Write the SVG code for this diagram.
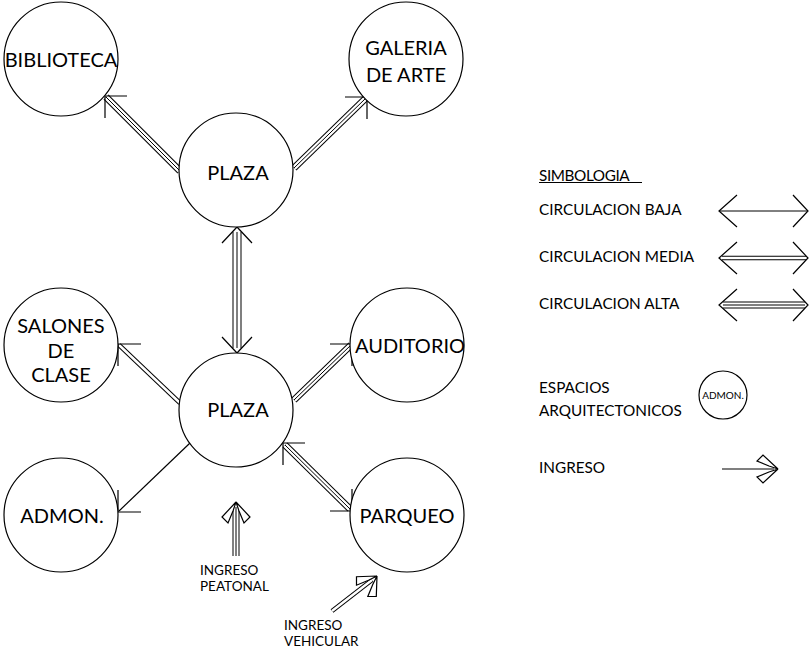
<svg xmlns="http://www.w3.org/2000/svg" width="809" height="652" viewBox="0 0 809 652">
<style>
.n{fill:#fff;stroke:#000;stroke-width:1.2}
.t{font-family:Lato,"Open Sans",sans-serif;fill:#000;text-anchor:middle}
.big{font-size:20px}
.lg{font-family:Lato,"Open Sans",sans-serif;font-size:15.3px;fill:#000}
.sm{font-family:Lato,"Open Sans",sans-serif;font-size:13.5px;fill:#000}
.k{fill:none;stroke:#000;stroke-width:1.2}
.b3{fill:none;stroke:#000;stroke-width:7}
.w3{fill:none;stroke:#fff;stroke-width:5}
.b2{fill:none;stroke:#000;stroke-width:4.5}
.w2{fill:none;stroke:#fff;stroke-width:2.5}
.c1{fill:none;stroke:#000;stroke-width:1}
.fin{fill:#fff;stroke:#000;stroke-width:1.2;stroke-linejoin:miter}
</style>
<defs>
<path id="fins" d="M0,0 L-14,15 L-8,21 L-3,9 Z M0,0 L14,15 L8,21 L3,9 Z"/>
</defs>
<rect width="809" height="652" fill="#fff"/>
<g id="connectors">
<path class="b3" d="M180,171 L106,97"/><path class="w3" d="M180,171 L106,97"/><path class="c1" d="M180,171 L106,97"/>
<path class="k" d="M127,96 L105,96 L105,118"/>
<path class="b3" d="M294,168 L366,98"/><path class="w3" d="M294,168 L366,98"/><path class="c1" d="M294,168 L366,98"/>
<path class="k" d="M345,97 L367,97 L367,119"/>
<path class="b3" d="M237,232 L237,348" style="stroke-width:9"/><path class="w3" d="M237,232 L237,348" style="stroke-width:7"/><path class="c1" d="M237,232 L237,348"/>
<path class="k" d="M222,243 L237,227 L252,243"/>
<path class="k" d="M222,337 L237,353 L252,337"/>
<path class="b2" d="M180,403 L119,345"/><path class="w2" d="M180,403 L119,345"/>
<path class="k" d="M141,344 L118,344 L118,366"/>
<path class="b3" d="M294,400 L351,345"/><path class="w3" d="M294,400 L351,345"/><path class="c1" d="M294,400 L351,345"/>
<path class="k" d="M330,344 L352,344 L352,366"/>
<path class="k" d="M190,443 L119,511"/>
<path class="k" d="M118,490 L118,512 L141,512"/>
<path class="b3" d="M285,445 L350,509"/><path class="w3" d="M285,445 L350,509"/><path class="c1" d="M285,445 L350,509"/>
<path class="k" d="M305,443 L283,443 L283,465"/>
<path class="k" d="M330,511 L352,511 L352,489"/>
<path class="b3" d="M236,556 L236,507"/><path class="w3" d="M236,556 L236,507"/><path class="c1" d="M236,556 L236,507"/>
<use href="#fins" class="fin" transform="translate(236,502)"/>
<path class="b2" d="M332,611 L372,580"/><path class="w2" d="M332,611 L372,580"/>
<use href="#fins" class="fin" transform="translate(377,576) rotate(45)"/>
</g>
<g id="biblioteca"><circle class="n" cx="61" cy="59" r="57"/><text class="t big" x="61" y="67">BIBLIOTECA</text></g>
<g id="galeria"><circle class="n" cx="406" cy="59" r="57"/><text class="t big" x="406" y="55">GALERIA</text><text class="t big" x="406" y="82">DE ARTE</text></g>
<g id="plaza1"><circle class="n" cx="236" cy="170" r="57"/><text class="t big" x="238" y="180">PLAZA</text></g>
<g id="plaza2"><circle class="n" cx="236" cy="410" r="57"/><text class="t big" x="238" y="417">PLAZA</text></g>
<g id="salones"><circle class="n" cx="61" cy="345" r="57"/><text class="t big" x="61" y="333">SALONES</text><text class="t big" x="61" y="358">DE</text><text class="t big" x="61" y="382">CLASE</text></g>
<g id="auditorio"><circle class="n" cx="407" cy="345" r="57"/><text class="t big" x="410" y="353">AUDITORIO</text></g>
<g id="admon"><circle class="n" cx="61" cy="515" r="57"/><text class="t big" x="62" y="523">ADMON.</text></g>
<g id="parqueo"><circle class="n" cx="407" cy="515" r="57"/><text class="t big" x="407" y="523">PARQUEO</text></g>
<g id="labels">
<text class="sm" x="200" y="575">INGRESO</text><text class="sm" x="200" y="591">PEATONAL</text>
<text class="sm" x="284" y="630">INGRESO</text><text class="sm" x="284" y="646">VEHICULAR</text>
</g>
<g id="legend">
<text class="lg" x="539" y="181" style="letter-spacing:-0.4px">SIMBOLOGIA</text>
<path class="c1" d="M539,182.5 L642,182.5"/>
<text class="lg" x="539" y="215">CIRCULACION BAJA</text>
<path class="c1" d="M720,211 L807,211"/>
<path class="k" d="M737,195 L719,211 L737,227"/><path class="k" d="M793,195 L808,211 L793,227"/>
<text class="lg" x="539" y="262">CIRCULACION MEDIA</text>
<path class="b2" d="M722,258 L806,258"/><path class="w2" d="M722,258 L806,258"/>
<path class="k" d="M737,242 L719,258 L737,274"/><path class="k" d="M793,242 L808,258 L793,274"/>
<text class="lg" x="539" y="309">CIRCULACION ALTA</text>
<path class="b3" d="M723,305 L805,305"/><path class="w3" d="M723,305 L805,305"/><path class="c1" d="M723,305 L805,305"/>
<path class="k" d="M737,289 L719,305 L737,321"/><path class="k" d="M793,289 L808,305 L793,321"/>
<text class="lg" x="539" y="393">ESPACIOS</text><text class="lg" x="539" y="416">ARQUITECTONICOS</text>
<g id="legend-node"><circle class="n" cx="723" cy="395" r="24"/><text class="t" x="723" y="398.5" style="font-size:10px">ADMON.</text></g>
<text class="lg" x="539" y="473">INGRESO</text>
<path class="k" d="M722,469 L774,469"/>
<use href="#fins" class="fin" transform="translate(778,469) rotate(90)"/>
</g>
</svg>
